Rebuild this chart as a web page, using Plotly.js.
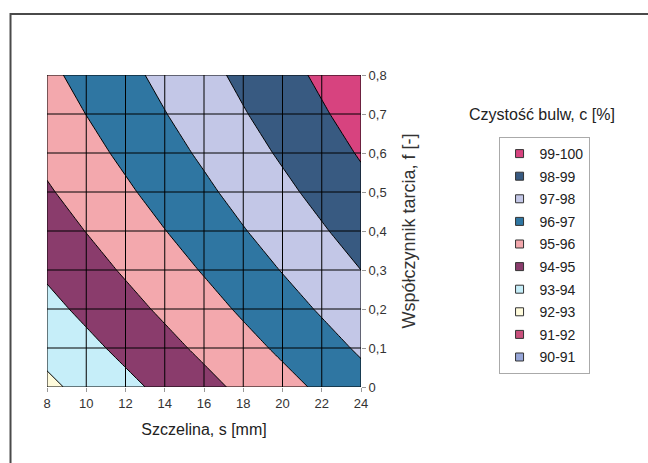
<!DOCTYPE html>
<html>
<head>
<meta charset="utf-8">
<script src="https://cdn.plot.ly/plotly-3.0.1.min.js"></script>
<style>html,body{margin:0;padding:0;background:#fff;}#chart{width:648px;height:463px;}</style>
</head>
<body>
<div id="chart"></div>
<script>
// Szczelina s [mm] (x) and współczynnik tarcia f [-] (y)
var sValues = [8, 10, 12, 14, 16, 18, 20, 22, 24];
var fValues = [0, 0.1, 0.2, 0.3, 0.4, 0.5, 0.6, 0.7, 0.8];
// Czystość bulw c [%], rows = f, columns = s
var cRow0  = [92.80, 93.28, 93.76, 94.24, 94.72, 95.21, 95.69, 96.17, 96.65];
var cRow1  = [93.28, 93.76, 94.24, 94.72, 95.20, 95.69, 96.17, 96.65, 97.13];
var cRow2  = [93.73, 94.21, 94.69, 95.17, 95.65, 96.14, 96.62, 97.10, 97.58];
var cRow3  = [94.15, 94.63, 95.11, 95.59, 96.07, 96.56, 97.04, 97.52, 98.00];
var cRow4  = [94.54, 95.02, 95.50, 95.98, 96.46, 96.95, 97.43, 97.91, 98.39];
var cRow5  = [94.90, 95.38, 95.86, 96.34, 96.82, 97.31, 97.79, 98.27, 98.75];
var cRow6  = [95.23, 95.71, 96.19, 96.67, 97.15, 97.64, 98.12, 98.60, 99.08];
var cRow7  = [95.53, 96.01, 96.49, 96.97, 97.45, 97.94, 98.42, 98.90, 99.38];
var cRow8  = [95.80, 96.28, 96.76, 97.24, 97.72, 98.21, 98.69, 99.17, 99.65];

// legend classes (from 90-91 upward) and their colours
var classLabels = ['90-91', '91-92', '92-93', '93-94', '94-95', '95-96', '96-97', '97-98', '98-99', '99-100'];
var classColors = ['#97a6d8', '#c9507c', '#fffbdc', '#c6eef9', '#8a3c6c', '#f3a8ad', '#2f76a2', '#c3c7e7', '#385a81', '#d7437f'];
var sTicks = [8, 10, 12, 14, 16, 18, 20, 22, 24];
var fTicks = [0, 0.1, 0.2, 0.3, 0.4, 0.5, 0.6, 0.7, 0.8];

var zGrid = [cRow0, cRow1, cRow2, cRow3, cRow4, cRow5, cRow6, cRow7, cRow8];

// stepped colour scale: one step per class
var scale = [];
for (var i = 0; i < classColors.length; i++) {
  scale.push([i / classColors.length, classColors[i]]);
  scale.push([(i + 1) / classColors.length, classColors[i]]);
}

var traces = [{
  type: 'contour',
  x: sValues, y: fValues, z: zGrid,
  autocontour: false,
  contours: {start: 90, end: 100, size: 1, coloring: 'fill', showlines: true},
  line: {color: '#000', width: 1, smoothing: 0},
  colorscale: scale, zmin: 90, zmax: 100, zauto: false,
  showscale: false, showlegend: false, hoverinfo: 'x+y+z'
}];

for (var k = classLabels.length - 1; k >= 0; k--) {
  traces.push({
    type: 'scatter', mode: 'markers', x: [null], y: [null],
    name: classLabels[k], legendgroup: 'g' + k, showlegend: true,
    marker: {symbol: 'square', size: 8, color: classColors[k], line: {color: '#333', width: 1}}
  });
}

var shapes = [];
sTicks.forEach(function (v) {
  shapes.push({type: 'line', xref: 'x', yref: 'paper', x0: v, x1: v, y0: 0, y1: 1, layer: 'above', line: {color: '#000', width: 1}});
});
fTicks.forEach(function (v) {
  shapes.push({type: 'line', xref: 'paper', yref: 'y', x0: 0, x1: 1, y0: v, y1: v, layer: 'above', line: {color: '#000', width: 1}});
});
// outer chart frame
shapes.push({type: 'rect', xref: 'paper', yref: 'paper', x0: -0.1162, x1: 2.5, y0: -0.6, y1: 1.1955, layer: 'below', line: {color: '#4a4a4a', width: 2}, fillcolor: 'rgba(0,0,0,0)'});

var FONT = 'Liberation Sans, Arial, sans-serif';
var layout = {
  width: 648, height: 463,
  margin: {l: 47, r: 287, t: 75, b: 76, pad: 0},
  paper_bgcolor: '#fff', plot_bgcolor: '#fff',
  separators: ', ',
  font: {family: FONT, size: 13, color: '#333'},
  showlegend: true,
  xaxis: {
    range: [8, 24], tickvals: sTicks, ticks: 'outside', ticklen: 4, tickcolor: '#999',
    showgrid: false, zeroline: false, showline: false,
    tickfont: {family: FONT, size: 13, color: '#333'},
    title: {text: 'Szczelina, s [mm]', font: {family: FONT, size: 16, color: '#222'}, standoff: 14}
  },
  yaxis: {
    range: [0, 0.8], side: 'right', tickvals: fTicks, ticks: 'outside', ticklen: 4, tickcolor: '#999',
    showgrid: false, zeroline: false, showline: false,
    tickfont: {family: FONT, size: 13, color: '#333'},
    title: {text: 'Współczynnik tarcia, f [-]', font: {family: FONT, size: 18, color: '#333'}, standoff: 16}
  },
  legend: {
    x: 1.583, y: 0.8013, xanchor: 'center', yanchor: 'top',
    traceorder: 'grouped', tracegroupgap: 1.4,
    bordercolor: '#aaa', borderwidth: 1, bgcolor: '#fff',
    font: {family: FONT, size: 14, color: '#222'}
  },
  annotations: [{
    text: 'Czystość bulw, c [%]', xref: 'paper', yref: 'paper', x: 1.576, y: 0.8718,
    xanchor: 'center', yanchor: 'middle', showarrow: false,
    font: {family: FONT, size: 16, color: '#222'}
  }],
  shapes: shapes
};

Plotly.newPlot('chart', traces, layout, {staticPlot: true, displayModeBar: false});
</script>
</body>
</html>
